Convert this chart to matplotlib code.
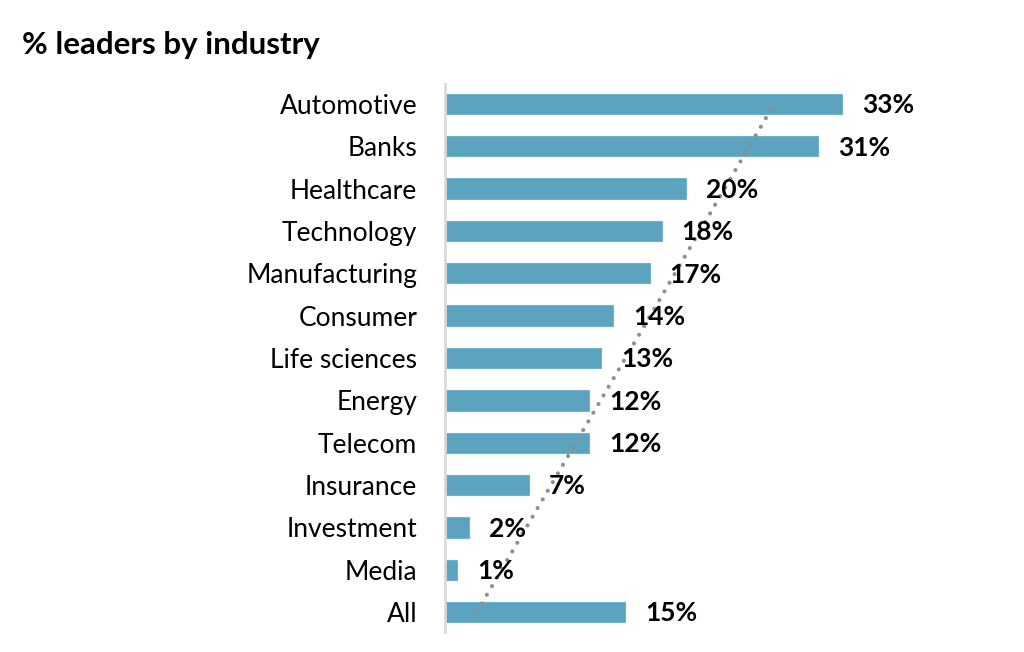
import numpy as np
import matplotlib.pyplot as plt

plt.rcParams['font.family'] = ['Lato', 'DejaVu Sans']

# data, top to bottom as shown
industries = ["Automotive", "Banks", "Healthcare", "Technology", "Manufacturing",
              "Consumer", "Life sciences", "Energy", "Telecom", "Insurance",
              "Investment", "Media", "All"]
pct = [33, 31, 20, 18, 17, 14, 13, 12, 12, 7, 2, 1, 15]

bar_color = "#5ba3be"

# bottom category gets position 1 (like excel)
ypos = np.arange(len(industries), 0, -1)

fig = plt.figure(figsize=(10.24, 6.52), dpi=100)
ax = fig.add_axes([445 / 1024, 20 / 652, 575 / 1024, 548 / 652])

ax.barh(ypos, pct, height=0.48, color=bar_color, edgecolor="#6fb3cb", linewidth=0.8, zorder=2)

# linear trendline over category index
coef = np.polyfit(ypos, pct, 1)
tx = np.array([ypos.min(), ypos.max()])
ax.plot(np.polyval(coef, tx), tx, color="#8f8f8f", linewidth=3,
        linestyle=(0, (0.01, 2.4)), dash_capstyle="round", zorder=3)

for y, v in zip(ypos, pct):
    ax.annotate(f"{v}%", (v, y), xytext=(14.4, -1), textcoords="offset points",
                ha="left", va="center", fontsize=19, fontweight="bold", zorder=4)

ax.set_yticks(ypos)
ax.set_yticklabels(industries, fontsize=19)
ax.tick_params(axis="y", length=0, pad=20)
ax.set_xticks([])
ax.set_xlim(0, 575 / 12.03)
ax.set_ylim(ypos.min() - 0.47, ypos.max() + 0.47)

for s in ["top", "right", "bottom"]:
    ax.spines[s].set_visible(False)
ax.spines["left"].set_color("#d9d9d9")
ax.spines["left"].set_linewidth(2)

fig.text(22 / 1024, 1 - 45 / 652, "% leaders by industry", fontsize=22.5,
         fontweight="bold", ha="left", va="center")

fig.savefig("out.png", dpi=100, facecolor="white")
